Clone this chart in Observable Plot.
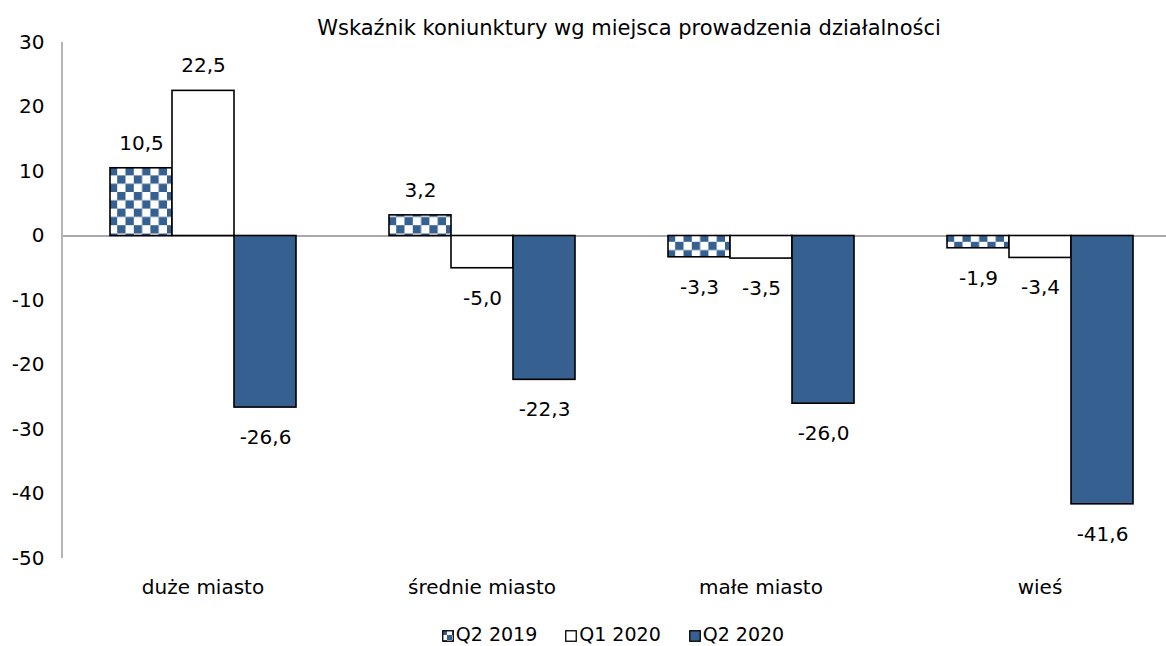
<!DOCTYPE html>
<html>
<head>
<meta charset="utf-8">
<script src="https://cdn.jsdelivr.net/npm/d3@7"></script>
<script src="https://cdn.jsdelivr.net/npm/@observablehq/plot@0.6"></script>
<style>
  body { margin: 0; background: #fff; font-family: "DejaVu Sans", sans-serif; color: #000; overflow: hidden; }
  #title { height: 26px; line-height: 56px; font-size: 21px; text-align: center; padding-left: 92px; box-sizing: border-box; width: 1166px; white-space: nowrap; }
  #chart { width: 1166px; }
  #legend { width: 1166px; text-align: center; font-size: 19px; line-height: 24px; padding-left: 60px; box-sizing: border-box; margin-top: 12px; }
  #legend span.item { margin: 0 14px; white-space: nowrap; }
  #legend svg { vertical-align: -1px; margin-right: 2px; }
</style>
</head>
<body>
<div id="title">Wskaźnik koniunktury wg miejsca prowadzenia działalności</div>
<div id="chart"></div>
<div id="legend"></div>
<script>
const categories = ["duże miasto", "średnie miasto", "małe miasto", "wieś"];
const seriesNames = ["Q2 2019", "Q1 2020", "Q2 2020"];
const q2_2019 = [10.5, 3.2, -3.3, -1.9];
const q1_2020 = [22.5, -5.0, -3.5, -3.4];
const q2_2020 = [-26.6, -22.3, -26.0, -41.6];
const yTicks = [30, 20, 10, 0, -10, -20, -30, -40, -50];

const seriesValues = [q2_2019, q1_2020, q2_2020];
const rows = [];
categories.forEach((c, i) => {
  seriesNames.forEach((s, j) => rows.push({category: c, series: s, value: seriesValues[j][i]}));
});
const fmt = v => d3.format(".1f")(v).replace(".", ",").replace("−", "-");
const blue = "#36608f";

const W = 1166, H = 584, MT = 16, MB = 52, ML = 62, MR = -14;

const chart = Plot.plot({
  width: W,
  height: H,
  marginTop: MT,
  marginBottom: MB,
  marginLeft: ML,
  marginRight: MR,
  style: {fontFamily: "DejaVu Sans, sans-serif", fontSize: "20px", color: "#000", background: "#fff", overflow: "visible"},
  fx: {domain: categories, paddingInner: 0, paddingOuter: 0, axis: "bottom", tickSize: 0, tickPadding: 21, label: null},
  x: {domain: seriesNames, paddingInner: 0, paddingOuter: 0.75, axis: null},
  y: {domain: [-50, 30], ticks: yTicks, tickFormat: d => String(d), tickSize: 0, tickPadding: 19, label: null},
  color: {domain: seriesNames, range: ["url(#checker)", "#ffffff", blue]},
  marks: [
    Plot.ruleY([0], {stroke: "#8c8c8c", strokeWidth: 1.3}),
    Plot.barY(rows, {fx: "category", x: "series", y: "value", fill: "series", stroke: "#000", strokeWidth: 1.6}),
    Plot.text(rows.filter(d => d.value >= 0), {fx: "category", x: "series", y: "value", text: d => fmt(d.value), dy: -25, fontSize: 20}),
    Plot.text(rows.filter(d => d.value < 0), {fx: "category", x: "series", y: "value", text: d => fmt(d.value), dy: 30, fontSize: 20})
  ]
});

// checker pattern definition
const ns = "http://www.w3.org/2000/svg";
const svgEl = chart.tagName.toLowerCase() === "svg" ? chart : chart.querySelector("svg");
const defs = document.createElementNS(ns, "defs");
defs.innerHTML = `<pattern id="checker" width="16.6" height="16.6" patternUnits="userSpaceOnUse">
  <rect width="16.6" height="16.6" fill="#ffffff"/>
  <rect width="8.3" height="8.3" fill="${blue}"/>
  <rect x="8.3" y="8.3" width="8.3" height="8.3" fill="${blue}"/>
</pattern>
<pattern id="checkerSmall" width="10" height="10" patternUnits="userSpaceOnUse">
  <rect width="10" height="10" fill="#ffffff"/>
  <rect width="5" height="5" fill="${blue}"/>
  <rect x="5" y="5" width="5" height="5" fill="${blue}"/>
</pattern>`;
svgEl.insertBefore(defs, svgEl.firstChild);

// y axis line
const line = document.createElementNS(ns, "line");
line.setAttribute("x1", ML); line.setAttribute("x2", ML);
line.setAttribute("y1", MT); line.setAttribute("y2", H - MB);
line.setAttribute("stroke", "#8c8c8c"); line.setAttribute("stroke-width", 1.3);
svgEl.appendChild(line);

document.getElementById("chart").appendChild(chart);

// legend
const legend = document.getElementById("legend");
const sw = {"Q2 2019": "url(#checkerSmall)", "Q1 2020": "#ffffff", "Q2 2020": blue};
legend.innerHTML = seriesNames.map(s =>
  `<span class="item"><svg width="12" height="12"><rect x="0.75" y="0.75" width="10.5" height="10.5" fill="${sw[s]}" stroke="#000" stroke-width="1.3"/></svg>${s}</span>`
).join("");
</script>
</body>
</html>
